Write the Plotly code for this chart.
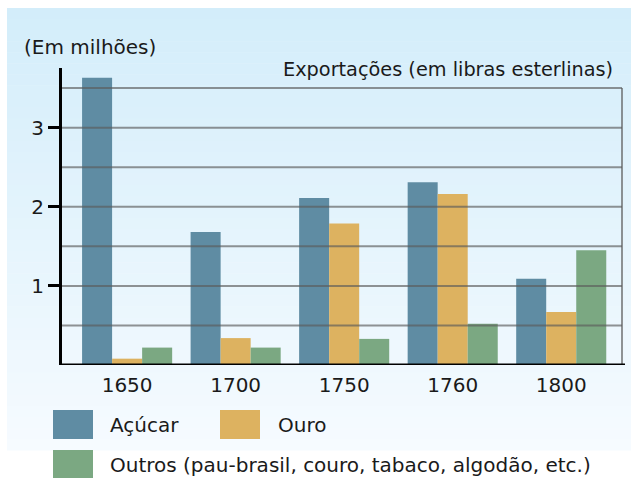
import plotly.graph_objects as go

years = ["1650", "1700", "1750", "1760", "1800"]
series_names = ["Açúcar", "Ouro", "Outros (pau-brasil, couro, tabaco, algodão, etc.)"]
acucar = [3.63, 1.68, 2.11, 2.31, 1.09]
ouro = [0.08, 0.34, 1.79, 2.16, 0.67]
outros = [0.22, 0.22, 0.33, 0.52, 1.45]
colors = ["#5f8ca3", "#ddb260", "#7ba882"]
y_ticks = [1, 2, 3]
grid_vals = [0.5, 1, 1.5, 2, 2.5, 3, 3.5]

FONT = "DejaVu Sans"
FS = 20
W, H = 631, 478
L, R, T, B = 62, 9, 68, 113

fig = go.Figure()
xs = list(range(len(years)))
for name, vals, c in zip(series_names, [acucar, ouro, outros], colors):
    fig.add_trace(go.Bar(x=xs, y=vals, name=name, marker=dict(color=c, line=dict(width=0)),
                         showlegend=False))

shapes = []
pw, ph = W - L - R, H - T - B
def px2paper_x(px):
    return (px - L) / pw
def py2paper_y(py):
    return (H - B - py) / ph
top_c = (211, 237, 250)
bot_c = (246, 251, 255)
y0, y1 = 8, 450
n = 40
for i in range(n):
    a = y0 + (y1 - y0) * i / n
    b = y0 + (y1 - y0) * (i + 1) / n
    t = (i + 0.5) / n
    col = tuple(round(top_c[k] + (bot_c[k] - top_c[k]) * t) for k in range(3))
    shapes.append(dict(type="rect", xref="paper", yref="paper",
                       x0=px2paper_x(7), x1=px2paper_x(W + 2),
                       y0=py2paper_y(b + 0.5), y1=py2paper_y(a),
                       fillcolor="rgb(%d,%d,%d)" % col, line=dict(width=0), layer="below"))

for g in grid_vals:
    shapes.append(dict(type="line", xref="paper", yref="y", x0=0, x1=1, y0=g, y1=g,
                       line=dict(color="rgba(90,90,90,0.65)", width=2), layer="above"))
shapes.append(dict(type="line", xref="paper", yref="y", x0=1, x1=1, y0=0, y1=max(grid_vals),
                   line=dict(color="rgba(90,90,90,0.65)", width=2), layer="above"))
shapes.append(dict(type="line", xref="paper", yref="y", x0=-0.004, x1=px2paper_x(625), y0=0, y1=0,
                   line=dict(color="black", width=3), layer="above"))

annotations = []
leg = [(53, 410, 108, 0), (220, 410, 276, 1), (53, 450, 108, 2)]
for sx, sy, tx, idx in leg:
    shapes.append(dict(type="rect", xref="paper", yref="paper",
                       x0=px2paper_x(sx), x1=px2paper_x(sx + 40),
                       y0=py2paper_y(sy + 29), y1=py2paper_y(sy),
                       fillcolor=colors[idx], line=dict(width=0)))
    annotations.append(dict(text=series_names[idx], xref="paper", yref="paper",
                            x=px2paper_x(tx), y=py2paper_y(sy + 14.5),
                            xanchor="left", yanchor="middle", showarrow=False,
                            font=dict(family=FONT, size=FS, color="#1a1a1a")))

annotations.append(dict(text="(Em milhões)", xref="paper", yref="paper",
                        x=px2paper_x(22), y=py2paper_y(47), xanchor="left", yanchor="middle",
                        showarrow=False, font=dict(family=FONT, size=FS, color="#1a1a1a")))
annotations.append(dict(text="Exportações (em libras esterlinas)", xref="paper", yref="paper",
                        x=px2paper_x(615), y=py2paper_y(70), xanchor="right", yanchor="middle",
                        showarrow=False, font=dict(family=FONT, size=19.3, color="#1a1a1a")))

fig.update_layout(
    width=W, height=H,
    margin=dict(l=L, r=R, t=T, b=B),
    paper_bgcolor="white", plot_bgcolor="rgba(0,0,0,0)",
    barmode="group", bargap=0.17, bargroupgap=0,
    shapes=shapes, annotations=annotations,
    font=dict(family=FONT, size=FS, color="#1a1a1a"),
    xaxis=dict(range=[-0.60, 4.56], tickvals=xs, ticktext=years, showgrid=False,
               showline=False, zeroline=False, ticks="", ticklabelstandoff=6,
               tickfont=dict(family=FONT, size=FS, color="#1a1a1a")),
    yaxis=dict(range=[0, 3.754], tickvals=y_ticks, showgrid=False, zeroline=False,
               showline=True, linecolor="black", linewidth=3,
               ticks="outside", ticklen=11, tickwidth=2.5, tickcolor="black",
               ticklabelstandoff=0,
               tickfont=dict(family=FONT, size=FS, color="#1a1a1a")),
)

fig.write_html("out.html", config={"displayModeBar": False},
               post_script="document.body.style.margin='0';document.body.style.padding='0';")
